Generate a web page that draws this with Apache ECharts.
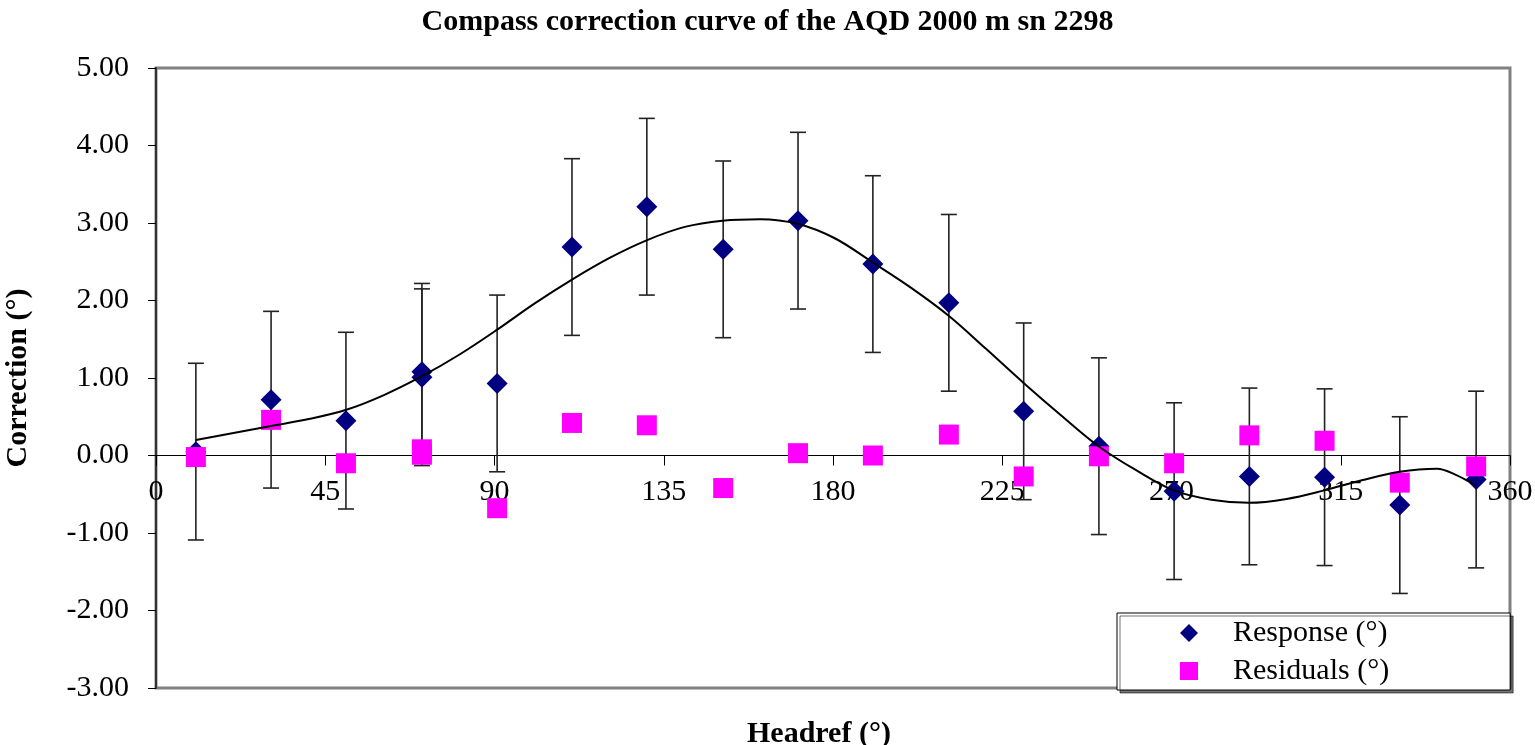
<!DOCTYPE html>
<html>
<head>
<meta charset="utf-8">
<script src="https://cdn.jsdelivr.net/npm/echarts@6/dist/echarts.min.js"></script>
<style>
  html, body { margin: 0; padding: 0; background: #fff; }
  #main { width: 1535px; height: 745px; }
</style>
</head>
<body>
<div id="main"></div>
<script>
var chartDom = document.getElementById("main");
var myChart = echarts.init(chartDom);
var option;

// headings (deg) of the measured points
var headings = [10.6, 30.6, 50.5, 70.7, 70.7, 90.7, 110.6, 130.5, 150.8, 170.7,
  190.6, 210.8, 230.7, 250.7, 270.7, 290.7, 310.7, 330.7, 351.0];
var response = [0.05, 0.72, 0.45, 1.08, 1.01, 0.93, 2.69, 3.21, 2.66, 3.03,
  2.47, 1.97, 0.57, 0.12, -0.46, -0.27, -0.28, -0.64, -0.31];
var residuals = [-0.02, 0.46, -0.10, 0.08, 0.01, -0.68, 0.42, 0.39, -0.42, 0.03,
  0.00, 0.27, -0.27, -0.01, -0.10, 0.26, 0.19, -0.35, -0.14];
// error bar half width (deg)
var errorHalf = 1.14;

// fitted correction curve
var curveX = [10.6, 20.6, 30.6, 40.6, 50.6, 60.6, 70.6, 80.6, 90.6, 100.6,
  110.6, 120.6, 130.6, 140.6, 150.6, 160.6, 170.6, 180.6, 190.6, 200.6,
  210.6, 220.6, 230.6, 240.6, 250.6, 260.6, 270.6, 280.6, 290.6, 300.6,
  310.6, 320.6, 330.6, 340.6, 345.6, 351.0];
var curveY = [0.20, 0.29, 0.38, 0.47, 0.59, 0.78, 1.02, 1.30, 1.62, 1.96,
  2.27, 2.55, 2.78, 2.95, 3.03, 3.05, 2.99, 2.80, 2.49, 2.17,
  1.81, 1.38, 0.94, 0.52, 0.12, -0.19, -0.45, -0.57, -0.61, -0.56,
  -0.45, -0.32, -0.21, -0.17, -0.25, -0.39];

var xTicks = { min: 0, max: 360, interval: 45 };
var yTicks = { min: -3, max: 5, interval: 1 };

var FONT = "'Liberation Serif', 'Times New Roman', serif";

var respData = headings.map(function (h, i) { return [h, response[i]]; });
var resData = headings.map(function (h, i) { return [h, residuals[i]]; });
var errData = headings.map(function (h, i) {
  return [h, response[i] - errorHalf, response[i] + errorHalf];
});
var curveData = curveX.map(function (x, i) { return [x, curveY[i]]; });

option = {
  animation: false,
  backgroundColor: "#fff",
  title: {
    text: "Compass correction curve of the AQD 2000 m sn 2298",
    left: "center",
    top: 2,
    textStyle: { fontFamily: FONT, fontSize: 30, fontWeight: "bold", color: "#000" },
  },
  grid: {
    left: 156,
    right: 25,
    top: 68,
    bottom: 57,
    containLabel: false,
    outerBoundsMode: "none",
    show: true,
    borderColor: "#808080",
    borderWidth: 3,
    backgroundColor: "#fff",
  },
  legend: {
    orient: "vertical",
    left: 1117,
    top: 613,
    itemWidth: 18,
    itemHeight: 18,
    itemGap: 8,
    padding: [5, 121, 4, 63],
    backgroundColor: "#fff",
    borderColor: "#000",
    borderWidth: 1,
    shadowColor: "rgba(0,0,0,0.55)",
    shadowOffsetX: 3,
    shadowOffsetY: 3,
    textStyle: { fontFamily: FONT, fontSize: 30, color: "#000", padding: [0, 0, 0, 30] },
    data: ["Response (°)", "Residuals (°)"],
  },
  graphic: [
    {
      type: "text",
      left: 747,
      top: 719,
      style: { text: "Headref (°)", font: "bold 30px " + FONT, fill: "#000" },
    },
  ],
  xAxis: {
    type: "value",
    min: xTicks.min,
    max: xTicks.max,
    interval: xTicks.interval,
    // axis sits on the 0.00 line of the y axis
    offset: -232.5,
    axisLine: { onZero: false, lineStyle: { color: "#000", width: 1 } },
    axisTick: { show: true, length: 10, lineStyle: { color: "#000" } },
    axisLabel: { fontFamily: FONT, fontSize: 30, color: "#000", margin: 22 },
    splitLine: { show: false },
  },
  yAxis: {
    type: "value",
    min: yTicks.min,
    max: yTicks.max,
    interval: yTicks.interval,
    name: "Correction (°)",
    nameLocation: "middle",
    nameGap: 123,
    nameRotate: 90,
    nameTextStyle: { fontFamily: FONT, fontSize: 30, fontWeight: "bold", color: "#000" },
    axisLine: { show: true, onZero: false, lineStyle: { color: "#333", width: 2 } },
    axisTick: { show: true, length: 8, lineStyle: { color: "#000" } },
    axisLabel: {
      fontFamily: FONT, fontSize: 30, color: "#000", margin: 27,
      formatter: function (v) { return v.toFixed(2); },
    },
    splitLine: { show: false },
  },
  series: [
    {
      name: "error",
      type: "custom",
      z: 1,
      silent: true,
      data: errData,
      renderItem: function (params, api) {
        var x = api.value(0);
        var lo = api.coord([x, api.value(1)]);
        var hi = api.coord([x, api.value(2)]);
        var cap = 8;
        var st = { stroke: "#222", lineWidth: 1.6 };
        return {
          type: "group",
          children: [
            { type: "line", shape: { x1: lo[0], y1: lo[1], x2: hi[0], y2: hi[1] }, style: st },
            { type: "line", shape: { x1: hi[0] - cap, y1: hi[1], x2: hi[0] + cap, y2: hi[1] }, style: st },
            { type: "line", shape: { x1: lo[0] - cap, y1: lo[1], x2: lo[0] + cap, y2: lo[1] }, style: st },
          ],
        };
      },
    },
    {
      name: "Response (°)",
      type: "scatter",
      z: 2,
      symbol: "diamond",
      symbolSize: 21,
      itemStyle: { color: "#000080", opacity: 1 },
      data: respData,
    },
    {
      name: "Residuals (°)",
      type: "scatter",
      z: 3,
      symbol: "rect",
      symbolSize: 20,
      itemStyle: { color: "#ff00ff", opacity: 1 },
      data: resData,
    },
    {
      name: "fit",
      type: "line",
      z: 4,
      smooth: 0.35,
      showSymbol: false,
      silent: true,
      lineStyle: { color: "#000", width: 2 },
      data: curveData,
    },
  ],
};

option && myChart.setOption(option);
</script>
</body>
</html>
